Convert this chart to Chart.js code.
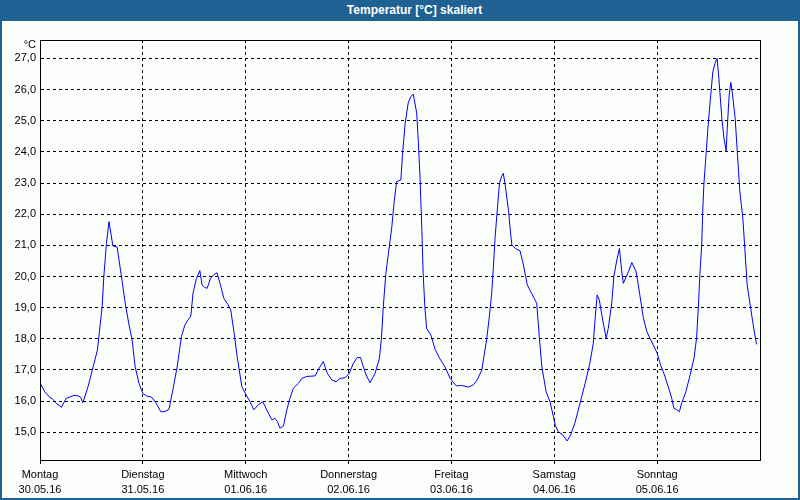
<!DOCTYPE html>
<html>
<head>
<meta charset="utf-8">
<script src="https://cdn.jsdelivr.net/npm/chart.js@4/dist/chart.umd.min.js"></script>
<style>
  html, body { margin: 0; padding: 0; background: #fcfefc; }
  #wrap { position: relative; width: 800px; height: 500px; overflow: hidden; }
  #bar { position: absolute; left: 0; top: 0; width: 800px; height: 21px; background: #1e6192;
         color: #ffffff; font: bold 12px "Liberation Sans", Arial, sans-serif; line-height: 21px;
         text-align: center; box-sizing: border-box; padding-left: 29px; }
  #c { position: absolute; left: 0; top: 21px; }
</style>
</head>
<body>
<div id="wrap">
  <div id="bar">Temperatur [°C] skaliert</div>
  <canvas id="c" width="800" height="479"></canvas>
</div>
<script>
// ---- data (hours since Montag 30.05.16 00:00, temperature in °C) ----
const hours = [
  0, 1.1, 2.3, 3.0, 3.8, 5.0, 6.1, 7.9, 8.9, 9.5, 10.0, 11.2, 12.4, 13.4, 13.9, 14.5, 14.9, 15.5, 16.1, 16.6,
  17.0, 18.0, 19.0, 19.9, 20.7, 21.5, 22.2, 23.1, 24.0, 24.8, 26.1, 27.1, 28.2, 29.1, 30.1, 31.0, 32.0, 33.0, 33.8, 34.5,
  35.2, 35.7, 36.5, 37.3, 37.8, 38.4, 39.0, 39.8, 40.5, 41.3, 42.1, 42.9, 43.9, 44.5, 45.3, 46.0, 46.6,
  47.1, 48.1, 49.0, 49.9, 50.9, 52.0, 52.9, 54.1, 54.8, 55.4, 56.0, 56.8, 57.6, 58.2, 59.1, 60.3, 61.1, 62.2, 64.2, 64.9,
  66.1, 67.0, 68.1, 69.1, 70.0, 71.2, 72.2, 73.1, 74.0, 74.8, 75.3, 76.1, 77.0, 78.2, 79.2, 79.7, 80.1, 80.7, 81.3, 82.1,
  82.6, 83.2, 84.2, 84.6, 85.2, 85.9, 86.5, 87.1, 87.9, 88.3, 88.7, 89.1, 89.4, 89.8, 90.2, 91.2, 92.2, 93.3, 94.5,
  95.7, 97.1, 98.4, 99.9, 101.1, 102.0, 103.1, 103.7, 104.2, 104.8, 105.4, 105.8, 106.2, 106.7, 107.2, 107.7, 108.1, 108.5, 109.3, 109.8,
  110.1, 111.1, 112.0, 112.8, 113.7, 114.7, 115.9, 116.5, 117.1, 118.1, 119.0, 119.8, 120.2, 120.9, 122.0, 123.0, 123.8, 124.8, 126.0, 127.2,
  128.3, 129.1, 129.5, 130.0, 130.5, 131.3, 132.1, 132.6, 133.4, 133.9, 134.6, 135.2, 135.7, 136.1, 137.3, 138.1, 139.1, 139.6, 140.2, 140.8,
  141.6, 142.3, 143.1, 144.0, 144.8, 145.7, 146.6, 147.4, 147.9, 148.6, 149.2, 149.7, 150.7, 151.7, 152.6, 153.2, 153.6, 154.0, 154.4, 154.6,
  154.9, 155.4, 155.9, 156.5, 157.0, 157.5, 158.0, 158.4, 159.1, 159.6, 160.1, 160.4, 160.8, 161.2, 161.6, 162.2, 162.7, 163.3, 164.0, 164.5,
  165.0, 165.7, 166.3, 166.8, 167.2
];
const temps = [
  16.59, 16.30, 16.12, 16.06, 15.93, 15.80, 16.09, 16.18, 16.17, 16.12, 15.95, 16.46, 17.10, 17.64, 18.28, 19.03, 20.00, 21.06, 21.76, 21.33,
  20.98, 20.94, 20.00, 19.14, 18.50, 17.96, 17.10, 16.57, 16.25, 16.17, 16.12, 15.93, 15.66, 15.66, 15.74, 16.36, 17.10, 18.07, 18.44, 18.60,
  18.73, 19.46, 19.94, 20.19, 19.73, 19.65, 19.62, 19.94, 20.05, 20.12, 19.73, 19.30, 19.09, 18.93, 18.18, 17.43, 16.90,
  16.46, 16.20, 15.98, 15.72, 15.88, 15.98, 15.72, 15.40, 15.45, 15.34, 15.13, 15.20, 15.72, 16.04, 16.41, 16.57, 16.73, 16.79, 16.81, 17.00,
  17.27, 16.90, 16.68, 16.62, 16.73, 16.75, 16.90, 17.21, 17.40, 17.40, 17.16, 16.84, 16.59, 16.90, 17.38, 18.07, 19.03, 20.10, 20.74, 21.60,
  22.35, 23.04, 23.10, 23.95, 24.91, 25.56, 25.77, 25.85, 25.24, 24.27, 23.10, 21.49, 20.10, 19.03, 18.34, 18.12, 17.66, 17.36, 17.10,
  16.73, 16.49, 16.50, 16.45, 16.52, 16.68, 17.00, 17.54, 17.96, 18.66, 19.46, 20.31, 21.28, 22.13, 22.99, 23.20, 23.31, 22.99, 22.13, 21.39,
  21.01, 20.88, 20.83, 20.37, 19.73, 19.46, 19.14, 18.07, 17.10, 16.30, 15.98, 15.50, 15.24, 15.02, 14.91, 14.72, 14.91, 15.29, 15.93, 16.57,
  17.21, 17.86, 18.60, 19.41, 19.25, 18.60, 18.02, 18.34, 19.14, 20.00, 20.53, 20.90, 20.21, 19.78, 20.15, 20.45, 20.15, 19.73, 19.19, 18.66,
  18.23, 18.02, 17.80, 17.54, 17.16, 16.84, 16.46, 16.09, 15.77, 15.72, 15.66, 15.93, 16.30, 16.84, 17.38, 18.02, 18.98, 20.15, 21.01, 21.97,
  22.94, 23.90, 24.86, 25.82, 26.57, 26.84, 27.00, 26.36, 25.08, 24.43, 24.03, 24.86, 25.82, 26.23, 25.82, 25.08, 24.00, 22.72, 21.87, 20.80,
  19.73, 19.09, 18.55, 18.12, 17.82
];
const dayNames = ["Montag", "Dienstag", "Mittwoch", "Donnerstag", "Freitag", "Samstag", "Sonntag"];
const dayDates = ["30.05.16", "31.05.16", "01.06.16", "02.06.16", "03.06.16", "04.06.16", "05.06.16"];
const dayStartHours = [0, 24, 48, 72, 96, 120, 144];
const yTickValues = [15, 16, 17, 18, 19, 20, 21, 22, 23, 24, 25, 26, 27];
const unitLabel = "°C";

const FONT = "'Liberation Sans', Arial, sans-serif";
const BLUE = "#1e6192";

const framePlugin = {
  id: 'frame',
  beforeDraw(chart) {
    const ctx = chart.ctx;
    ctx.save();
    ctx.fillStyle = '#fcfefc';
    ctx.fillRect(0, 0, chart.width, chart.height);
    ctx.restore();
  },
  afterDraw(chart) {
    const ctx = chart.ctx;
    const a = chart.chartArea;
    ctx.save();
    ctx.setLineDash([]);
    ctx.strokeStyle = '#000000';
    ctx.lineWidth = 1;
    ctx.strokeRect(Math.round(a.left) + 0.5, Math.round(a.top) + 0.5,
                   Math.round(a.right - a.left), Math.round(a.bottom - a.top));
    ctx.fillStyle = '#000000';
    ctx.font = "11px " + FONT;
    ctx.textAlign = 'right';
    ctx.textBaseline = 'middle';
    ctx.fillText(unitLabel, a.left - 4, a.top + 4.5);
    ctx.fillStyle = BLUE;
    ctx.fillRect(0, 0, 2, chart.height);
    ctx.fillRect(chart.width - 2, 0, 2, chart.height);
    ctx.fillRect(0, chart.height - 2, chart.width, 2);
    ctx.restore();
  }
};

new Chart(document.getElementById('c'), {
  type: 'line',
  data: {
    datasets: [{
      data: hours.map((h, i) => ({ x: h, y: temps[i] })),
      borderColor: '#0000ff',
      borderWidth: 1,
      pointRadius: 0,
      tension: 0,
      fill: false
    }]
  },
  options: {
    responsive: false,
    animation: false,
    devicePixelRatio: 1,
    layout: { padding: { top: 19, right: 40, left: 0, bottom: 0 } },
    plugins: { legend: { display: false }, tooltip: { enabled: false }, title: { display: false } },
    scales: {
      x: {
        type: 'linear',
        min: 0,
        max: 168,
        afterBuildTicks(scale) { scale.ticks = dayStartHours.map(v => ({ value: v })); },
        afterFit(scale) { scale.height = 40; },
        ticks: {
          autoSkip: false,
          maxRotation: 0,
          padding: 3,
          color: '#000000',
          font: { family: FONT, size: 11, lineHeight: '15px' },
          callback(value) {
            const i = dayStartHours.indexOf(value);
            return i >= 0 ? [dayNames[i], dayDates[i]] : '';
          }
        },
        grid: {
          color: '#000000',
          lineWidth: 1,
          drawTicks: true,
          tickLength: 4,
          tickColor: '#000000',
          tickBorderDash: []
        },
        border: { display: true, color: '#000000', width: 1, dash: [3, 3] }
      },
      y: {
        type: 'linear',
        min: 14.11,
        max: 27.59,
        afterBuildTicks(scale) { scale.ticks = yTickValues.map(v => ({ value: v })); },
        afterFit(scale) { scale.width = 40; },
        ticks: {
          padding: 4,
          color: '#000000',
          font: { family: FONT, size: 11 },
          callback(value) { return Number(value).toFixed(1).replace('.', ','); }
        },
        grid: {
          color: '#000000',
          lineWidth: 1,
          drawTicks: false
        },
        border: { display: true, color: '#000000', width: 1, dash: [3, 3] }
      }
    }
  },
  plugins: [framePlugin]
});
</script>
</body>
</html>
